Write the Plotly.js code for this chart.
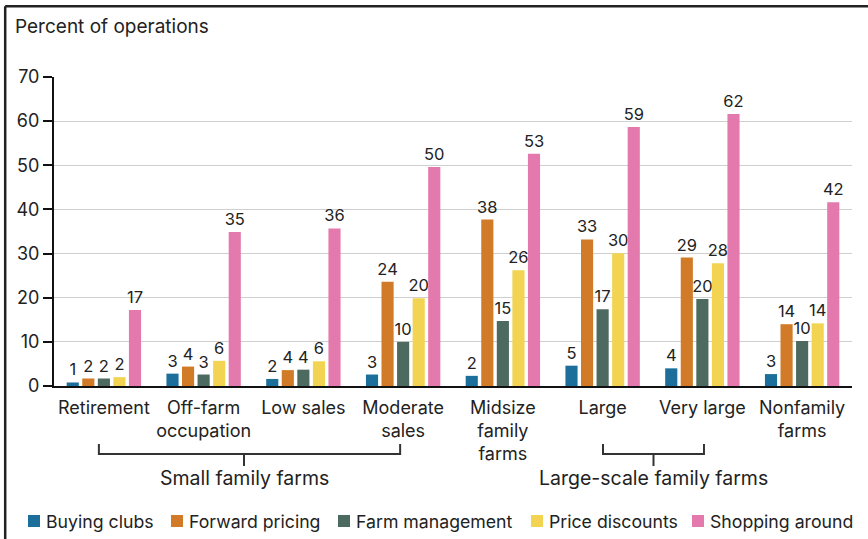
<!DOCTYPE html>
<html>
<head>
<meta charset="utf-8">
<script src="https://cdn.plot.ly/plotly-3.0.1.min.js"></script>
<style>html,body{margin:0;padding:0;background:#fff;}#chart{width:868px;height:539px;}</style>
</head>
<body>
<div id="chart"></div>
<script>
// ---- Data ----
const categories = ["Retirement", "Off-farm<br>occupation", "Low sales", "Moderate<br>sales",
  "Midsize<br>family<br>farms", "Large", "Very large", "Nonfamily<br>farms"];
const seriesNames = ["Buying clubs", "Forward pricing", "Farm management", "Price discounts", "Shopping around"];
const buyingClubs    = [0.8, 2.8, 1.6, 2.6, 2.3, 4.6, 4.0, 2.7];
const forwardPricing = [1.7, 4.4, 3.6, 23.6, 37.7, 33.2, 29.1, 14.0];
const farmManagement = [1.7, 2.6, 3.7, 10.0, 14.7, 17.4, 19.7, 10.2];
const priceDiscounts = [2.0, 5.7, 5.6, 19.9, 26.2, 30.1, 27.8, 14.2];
const shoppingAround = [17.2, 34.9, 35.7, 49.6, 52.6, 58.7, 61.6, 41.6];
const groupLabels = ["Small family farms", "Large-scale family farms"];

// ---- Styling ----
const colors = ["#1d6f9b", "#d17b28", "#4c6a5f", "#f2d452", "#e479ad"];
const W = 868, H = 539;
const M = {l: 54, r: 16, t: 77, b: 153};
const PW = W - M.l - M.r, PH = H - M.t - M.b;
const P = x => (x - M.l) / PW;          // pixel x -> paper
const Q = y => (H - M.b - y) / PH;      // pixel y -> paper
const FONT = "Inter, 'Noto Sans', sans-serif";
const TXT = "#222";

const allSeries = [buyingClubs, forwardPricing, farmManagement, priceDiscounts, shoppingAround];
const traces = allSeries.map((vals, i) => ({
  type: "bar",
  name: seriesNames[i],
  x: categories,
  y: vals,
  marker: {color: colors[i], line: {width: 0}},
  texttemplate: "%{y:.0f}",
  textposition: "outside",
  textangle: 0,
  constraintext: "none",
  cliponaxis: false,
  textfont: {size: 16.5, color: TXT, family: FONT},
  hoverinfo: "x+y+name"
}));

const shapes = [];
const annotations = [];

// frame (top + left edges visible)
shapes.push({type: "line", xref: "paper", yref: "paper", x0: P(5.2), x1: P(880), y0: Q(6.2), y1: Q(6.2), line: {color: "#222", width: 2.5}});
shapes.push({type: "line", xref: "paper", yref: "paper", x0: P(5.2), x1: P(5.2), y0: Q(6.2), y1: Q(560), line: {color: "#222", width: 2.5}});

// y-axis title
annotations.push({xref: "paper", yref: "paper", x: P(13), y: Q(27), xanchor: "left", yanchor: "middle",
  text: "Percent of operations", showarrow: false, font: {size: 19, color: TXT, family: FONT}});

// brackets (category index coordinates)
const brackets = [
  {a: -0.05, b: 2.97, c: 1.405, label: groupLabels[0]},
  {a: 5.004, b: 6.016, c: 5.51, label: groupLabels[1]}
];
const bl = {color: "#333", width: 2};
brackets.forEach(br => {
  shapes.push({type: "line", xref: "x", yref: "paper", x0: br.a, x1: br.b, y0: Q(454), y1: Q(454), line: bl});
  shapes.push({type: "line", xref: "x", yref: "paper", x0: br.a, x1: br.a, y0: Q(444), y1: Q(455), line: bl});
  shapes.push({type: "line", xref: "x", yref: "paper", x0: br.b, x1: br.b, y0: Q(444), y1: Q(455), line: bl});
  shapes.push({type: "line", xref: "x", yref: "paper", x0: br.c, x1: br.c, y0: Q(454), y1: Q(466), line: bl});
  annotations.push({xref: "x", yref: "paper", x: br.c, y: Q(478), xanchor: "center", yanchor: "middle",
    text: br.label, showarrow: false, font: {size: 19.5, color: TXT, family: FONT}});
});

// legend (manual, bottom row)
const legendX = [28, 171, 338, 531, 692];
seriesNames.forEach((nm, i) => {
  const lx = legendX[i];
  shapes.push({type: "rect", xref: "paper", yref: "paper", x0: P(lx), x1: P(lx + 12), y0: Q(527), y1: Q(515),
    fillcolor: colors[i], line: {width: 0}});
  annotations.push({xref: "paper", yref: "paper", x: P(lx + 16), y: Q(521), xanchor: "left", yanchor: "middle",
    text: nm, showarrow: false, font: {size: 17.7, color: TXT, family: FONT}});
});

const layout = {
  width: W, height: H,
  margin: M,
  paper_bgcolor: "#fff", plot_bgcolor: "#fff",
  font: {family: FONT, color: TXT, size: 17},
  showlegend: false,
  barmode: "group",
  bargap: 0.22,
  bargroupgap: 0.22,
  xaxis: {
    type: "category",
    showline: true, linecolor: "#111", linewidth: 2,
    ticks: "outside", ticklen: 4, tickcolor: "rgba(0,0,0,0)",
    showgrid: false, zeroline: false,
    tickfont: {size: 18, color: TXT, family: FONT},
    fixedrange: true
  },
  yaxis: {
    range: [0, 70], dtick: 10, tick0: 0,
    showline: true, linecolor: "#111", linewidth: 2,
    ticks: "outside", ticklen: 9, tickwidth: 2, tickcolor: "#111",
    showgrid: true, gridcolor: "#cfcfcf", gridwidth: 1,
    zeroline: false,
    tickfont: {size: 18, color: TXT, family: FONT},
    fixedrange: true
  },
  shapes: shapes,
  annotations: annotations
};

Plotly.newPlot("chart", traces, layout, {displayModeBar: false, staticPlot: true});
</script>
</body>
</html>
